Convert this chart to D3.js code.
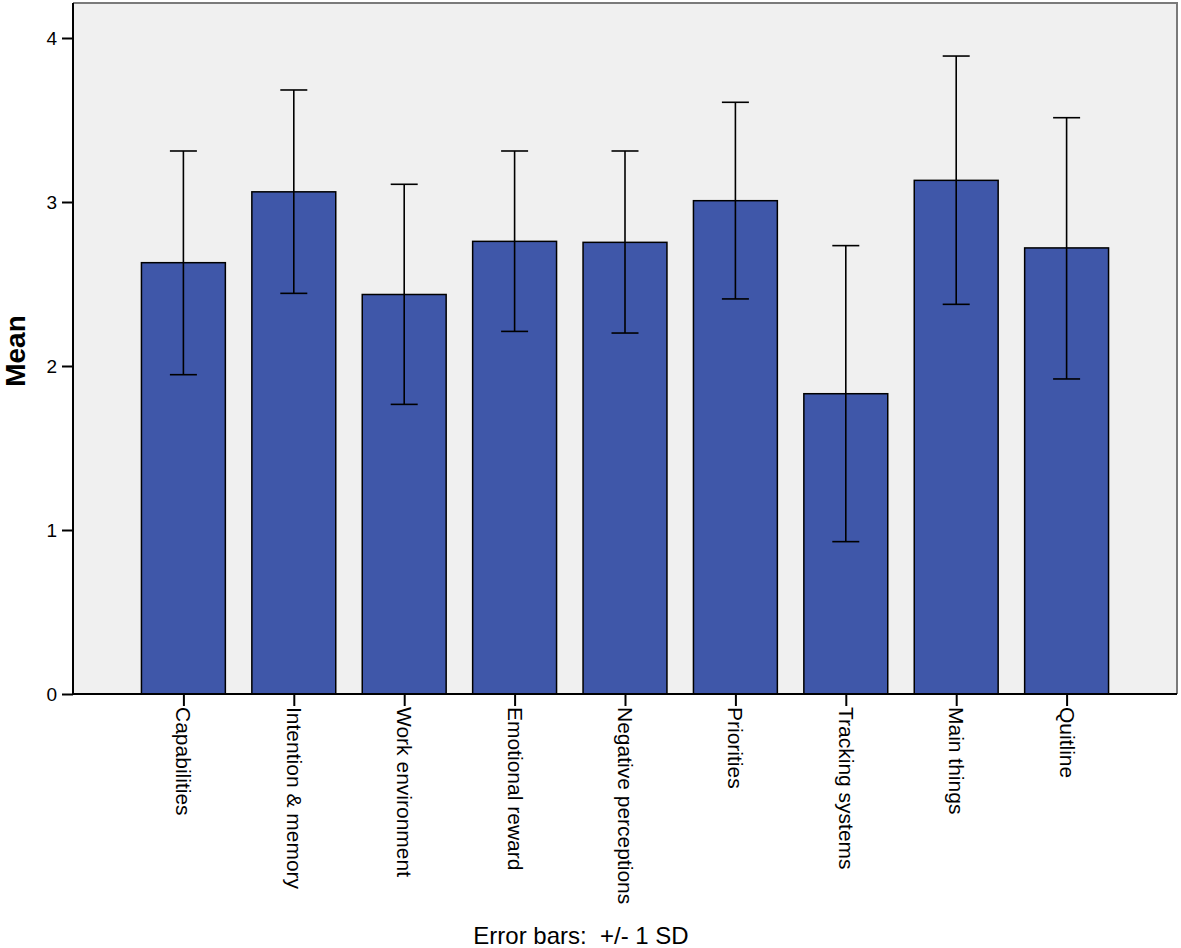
<!DOCTYPE html>
<html><head><meta charset="utf-8">
<script src="https://cdn.jsdelivr.net/npm/d3@7"></script>
<style>
html,body{margin:0;padding:0;background:#fff;}
svg{display:block;font-family:"Liberation Sans",Arial,sans-serif;}
</style></head>
<body>
<svg id="chart" width="1181" height="948"></svg>
<script>
const categories = ["Capabilities","Intention & memory","Work environment","Emotional reward","Negative perceptions","Priorities","Tracking systems","Main things","Quitline"];
const means   = [2.63, 3.062, 2.436, 2.760, 2.754, 3.008, 1.831, 3.132, 2.720];
const errHigh = [3.311, 3.683, 3.108, 3.311, 3.311, 3.608, 2.734, 3.890, 3.514];
const errLow  = [1.947, 2.443, 1.766, 2.211, 2.201, 2.409, 0.929, 2.376, 1.921];
const yTicks = [0, 1, 2, 3, 4];

const svg = d3.select("#chart");
const L = 73, R = 1177, T = 3, B = 694;

const x = d3.scalePoint().domain(categories).range([L, R]).padding(1);
const y = d3.scaleLinear().domain([0, 4]).range([B, 38]);
const barW = x.step() * 0.76;

// plot background
svg.append("rect").attr("x", L).attr("y", T).attr("width", R - L).attr("height", B - T)
  .attr("fill", "#f0f0f0");
// top/right frame
svg.append("path").attr("d", `M${L},${T}H${R}V${B}`).attr("fill", "none")
  .attr("stroke", "#7a7a7a").attr("stroke-width", 2);

// bars
svg.append("g").selectAll("rect").data(categories).join("rect")
  .attr("x", d => x(d) - barW / 2)
  .attr("y", (d, i) => y(means[i]))
  .attr("width", barW)
  .attr("height", (d, i) => B - y(means[i]))
  .attr("fill", "#3f57a9")
  .attr("stroke", "#000").attr("stroke-width", 1.5);

// error bars
const eg = svg.append("g").attr("stroke", "#000").attr("stroke-width", 1.6).attr("fill", "none");
const capW = 27;
categories.forEach((c, i) => {
  const cx = x(c);
  eg.append("line").attr("x1", cx).attr("x2", cx).attr("y1", y(errHigh[i])).attr("y2", y(errLow[i]));
  eg.append("line").attr("x1", cx - capW / 2).attr("x2", cx + capW / 2).attr("y1", y(errHigh[i])).attr("y2", y(errHigh[i]));
  eg.append("line").attr("x1", cx - capW / 2).attr("x2", cx + capW / 2).attr("y1", y(errLow[i])).attr("y2", y(errLow[i]));
});

// y axis
const yAxis = svg.append("g").attr("transform", `translate(${L},0)`)
  .call(d3.axisLeft(y).tickValues(yTicks).tickFormat(d3.format("d")).tickSize(11).tickPadding(5));
yAxis.select(".domain").attr("d", `M0,${T}V${B}`).attr("stroke", "#000").attr("stroke-width", 2);
yAxis.selectAll(".tick line").attr("stroke", "#000").attr("stroke-width", 2);
yAxis.selectAll(".tick text").attr("font-size", 19).attr("fill", "#000")
  .attr("font-family", "'Liberation Sans',Arial,sans-serif");

// x axis
const xAxis = svg.append("g").attr("transform", `translate(0,${B})`)
  .call(d3.axisBottom(x).tickSize(12).tickPadding(0));
xAxis.select(".domain").attr("d", `M${L},0H${R}`).attr("stroke", "#000").attr("stroke-width", 2);
xAxis.selectAll(".tick line").attr("stroke", "#000").attr("stroke-width", 2);
xAxis.selectAll(".tick text")
  .attr("font-size", 21).attr("fill", "#000")
  .attr("font-family", "'Liberation Sans',Arial,sans-serif")
  .attr("text-anchor", "start")
  .attr("dy", null)
  .attr("dominant-baseline", "central")
  .attr("transform", "translate(0,13) rotate(90)")
  .attr("x", 0).attr("y", 0);

// y label
svg.append("text").attr("transform", `translate(15,351) rotate(-90)`)
  .attr("text-anchor", "middle").attr("dominant-baseline", "central")
  .attr("font-size", 28).attr("font-weight", "bold").attr("fill", "#000")
  .text("Mean");

// footnote
svg.append("text").attr("x", 581).attr("y", 944)
  .attr("text-anchor", "middle").attr("font-size", 24).attr("fill", "#000")
  .attr("xml:space", "preserve").style("white-space", "pre")
  .text("Error bars:  +/- 1 SD");
</script>
</body></html>
